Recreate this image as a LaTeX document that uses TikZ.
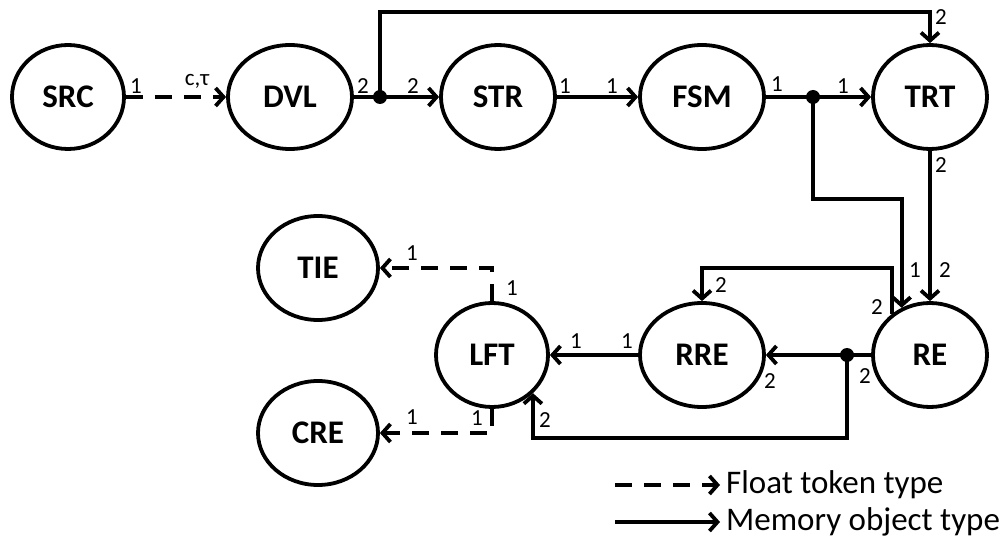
\documentclass[tikz,border=0pt]{standalone}
\usepackage{fontspec}
\setmainfont{Carlito}
\usetikzlibrary{arrows.meta,shapes.geometric}
\begin{document}
\begin{tikzpicture}[x=1pt,y=-1pt,
  blk/.style={draw,line width=3.8pt,ellipse,inner sep=0pt,minimum width=116pt,minimum height=104pt,font=\bfseries\fontsize{33}{38}\selectfont},
  mem/.style={line width=3.8pt,-{Straight Barb[length=8pt,width=18pt]}},
  flt/.style={mem,dash pattern=on 17pt off 12pt},
  wire/.style={line width=3.8pt},
  lab/.style={font=\fontsize{23}{26}\selectfont,inner sep=0pt},
  dot/.style={circle,fill=black,inner sep=0pt,minimum size=14pt},
  leg/.style={font=\fontsize{33}{38}\selectfont,anchor=west,inner sep=0pt}]
\useasboundingbox (0,0) rectangle (1005,540);
% nodes
\node[blk,minimum width=112pt] (SRC) at (68,97) {SRC};
\node[blk,minimum width=124pt] (DVL) at (290,97) {DVL};
\node[blk,minimum width=114pt] (STR) at (498,97) {STR};
\node[blk,minimum width=124pt] (FSM) at (702,97) {FSM};
\node[blk,minimum width=114pt] (TRT) at (930,97) {TRT};
\node[blk,minimum width=114pt] (RE) at (930,355) {RE};
\node[blk,minimum width=124pt] (RRE) at (702,355) {RRE};
\node[blk,minimum width=112pt] (LFT) at (492,355) {LFT};
\node[blk,minimum width=120pt] (TIE) at (318,268) {TIE};
\node[blk,minimum width=120pt] (CRE) at (318,433) {CRE};
% junctions
\coordinate (d1) at (380,97);
\coordinate (d2) at (813,97);
\coordinate (d3) at (847,355);
\coordinate (top) at (380,12);
\coordinate (mid) at (813,199);
\coordinate (fb) at (0,268);
\coordinate (low) at (847,438);
% connectors
\draw[flt] (SRC) -- (DVL);
\draw[wire] (DVL) -- (d1);
\draw[mem] (d1) -- (STR);
\draw[mem] (d1) -- (top) -| (TRT.north);
\draw[mem] (STR) -- (FSM);
\draw[wire] (FSM) -- (d2);
\draw[mem] (d2) -- (TRT);
\draw[mem] (d2) -- (mid) -| (RE.121);
\draw[mem] (TRT.south) -- (RE.north);
\draw[mem] (RE.133) -- (RE.133 |- fb) -| (RRE.north);
\draw[wire] (RE) -- (d3);
\draw[mem] (d3) -- (RRE);
\draw[mem] (d3) -- (low) -| (LFT.-43);
\draw[mem] (RRE) -- (LFT);
\draw[flt] (LFT.north) |- (TIE.east);
\draw[flt] (LFT.south) |- (CRE.east);
\node[dot] (j1) at (d1) {};
\node[dot] (j2) at (d2) {};
\node[dot] (j3) at (d3) {};
% labels
\node[lab] (l1) at (136,86) {1};
\node[lab] (l2) at (197,81) {c,τ};
\node[lab] (l3) at (363,86) {2};
\node[lab] (l4) at (413,86) {2};
\node[lab] (l5) at (941,17) {2};
\node[lab] (l6) at (565,86) {1};
\node[lab] (l7) at (612,86) {1};
\node[lab] (l8) at (777,84) {1};
\node[lab] (l9) at (843,86) {1};
\node[lab] (l10) at (941,165) {2};
\node[lab] (l11) at (915,270) {1};
\node[lab] (l12) at (945,270) {2};
\node[lab] (l13) at (721,285) {2};
\node[lab] (l14) at (877,307) {2};
\node[lab] (l15) at (865,376) {2};
\node[lab] (l16) at (770,381) {2};
\node[lab] (l17) at (545,420) {2};
\node[lab] (l18) at (576,341) {1};
\node[lab] (l19) at (627,341) {1};
\node[lab] (l20) at (512,288) {1};
\node[lab] (l21) at (412,253) {1};
\node[lab] (l22) at (477,418) {1};
\node[lab] (l23) at (412,417) {1};
% legend
\coordinate (fa) at (615,485);
\coordinate (fb2) at (720,485);
\coordinate (ma) at (615,522);
\coordinate (mb) at (720,522);
\draw[flt] (fa) -- (fb2);
\draw[mem] (ma) -- (mb);
\node[leg] (t1) at (726,485) {Float token type};
\node[leg] (t2) at (726,522) {Memory object type};
\end{tikzpicture}
\end{document}
